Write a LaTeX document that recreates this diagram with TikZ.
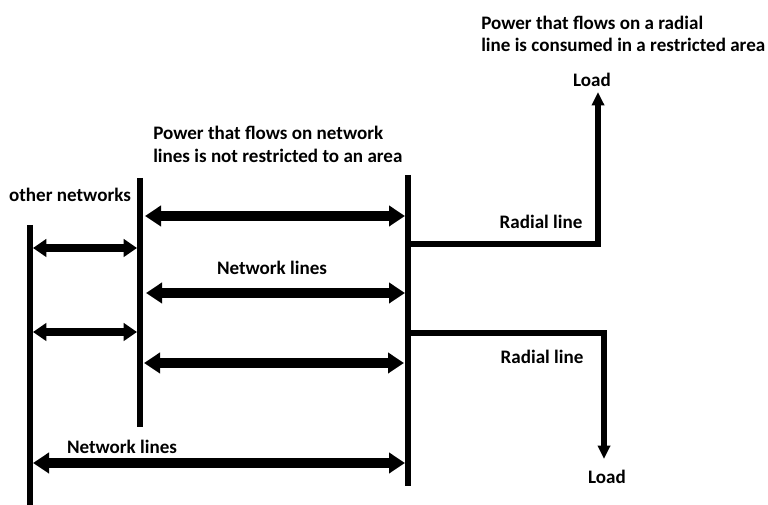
\documentclass[tikz,border=0pt]{standalone}
\usepackage{fontspec}
\setmainfont{Carlito}
\usetikzlibrary{arrows.meta}
\begin{document}
\begin{tikzpicture}[x=0.75pt,y=-0.75pt,
  bus/.style={line width=4pt},
  flow/.style={line width=8pt,{Triangle[length=12pt,width=15pt]}-{Triangle[length=12pt,width=15pt]}},
  sflow/.style={line width=6.5pt,{Triangle[length=10pt,width=13pt]}-{Triangle[length=10pt,width=13pt]}},
  radial/.style={line width=3.8pt,-{Triangle[length=10pt,width=9pt]}},
  lbl/.style={font=\bfseries\fontsize{14.3}{17}\selectfont, inner sep=0pt}]
\useasboundingbox (0,0) rectangle (768,505);
% buses
\coordinate (Lt) at (30,225); \coordinate (Lb) at (30,505);
\coordinate (Mt) at (140,178); \coordinate (Mb) at (140,427);
\coordinate (Rt) at (408,175); \coordinate (Rb) at (408,486);
\draw[bus] (Lt) -- (Lb);
\draw[bus] (Mt) -- (Mb);
\draw[bus] (Rt) -- (Rb);
% network line arrows
\coordinate (a1l) at (145,216); \coordinate (a1r) at (405,216);
\coordinate (a2l) at (146,293); \coordinate (a2r) at (405,293);
\coordinate (a3l) at (144,363); \coordinate (a3r) at (404,363);
\coordinate (a4l) at (33,463);  \coordinate (a4r) at (405,463);
\draw[flow] (a1l) -- (a1r);
\draw[flow] (a2l) -- (a2r);
\draw[flow] (a3l) -- (a3r);
\draw[flow] (a4l) -- (a4r);
\coordinate (s1l) at (33,248); \coordinate (s1r) at (137,248);
\coordinate (s2l) at (33,332); \coordinate (s2r) at (137,332);
\draw[sflow] (s1l) -- (s1r);
\draw[sflow] (s2l) -- (s2r);
% radial lines
\coordinate (r1a) at (408,244); \coordinate (r1b) at (598,244); \coordinate (r1c) at (598,92);
\coordinate (r2a) at (408,333); \coordinate (r2b) at (604,333); \coordinate (r2c) at (604,459);
\draw[radial] (r1a) -- (r1b) -- (r1c);
\draw[radial] (r2a) -- (r2b) -- (r2c);
% labels
\node[lbl, anchor=west] (t1) at (481,23) {Power that flows on a radial};
\node[lbl, anchor=west] (t2) at (481,45) {line is consumed in a restricted area};
\node[lbl] (load1) at (592,80) {Load};
\node[lbl] (rad1) at (541,222) {Radial line};
\node[lbl] (rad2) at (542,357) {Radial line};
\node[lbl] (load2) at (607,477) {Load};
\node[lbl, anchor=west] (p1) at (153,133) {Power that flows on network};
\node[lbl, anchor=west] (p2) at (153,156) {lines is not restricted to an area};
\node[lbl] (other) at (70,195) {other networks};
\node[lbl] (nl1) at (272,268) {Network lines};
\node[lbl] (nl2) at (122,447) {Network lines};
\end{tikzpicture}
\end{document}
